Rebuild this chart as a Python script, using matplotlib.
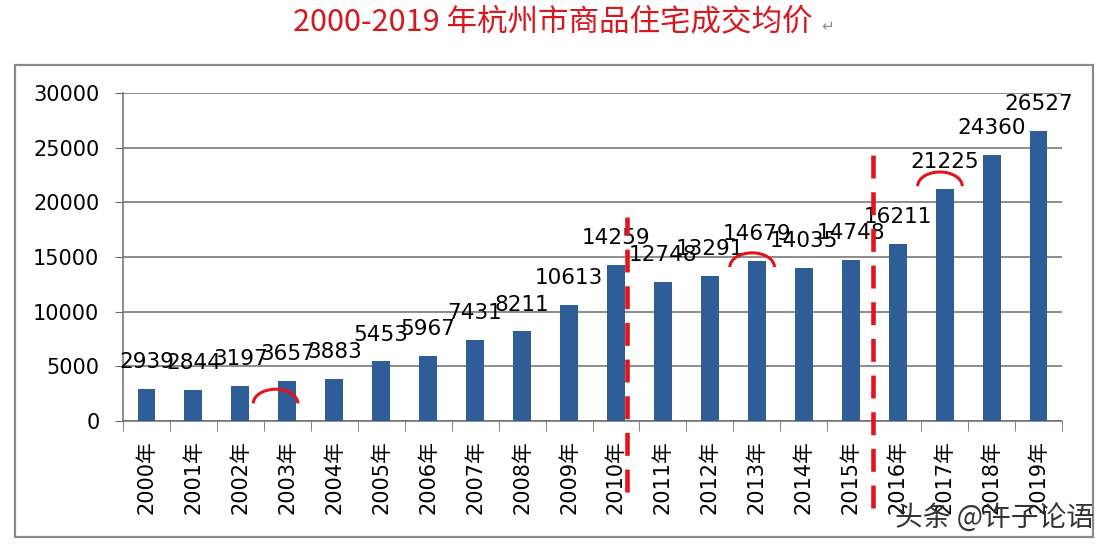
import matplotlib.pyplot as plt
from matplotlib.patches import Arc, Rectangle

# -----------------------------------------
# DATA
# -----------------------------------------
years = [f"{y}年" for y in range(2000, 2020)]

prices = [2939, 2844, 3197, 3657, 3883, 5453, 5967, 7431, 8211, 10613,
          14259, 12748, 13291, 14679, 14035, 14748, 16211, 21225, 24360, 26527]

title_text = "2000-2019 年杭州市商品住宅成交均价"
watermark = "头条 @许子论语"

# hand-drawn red marks: (bar index, x shift, arc peak above bar top)
arc_marks = [(3, -0.25, -750), (13, -0.1, 700), (17, -0.1, 1550)]

# red dashed separators: (x position, top, bottom) in data units
split_lines = [(10.23, 18700, -6500), (15.47, 24800, -8000)]

# -----------------------------------------
# STYLE
# -----------------------------------------
BAR_COLOR = "#2F5D98"
RED = "#E3141B"
GRID = "#6E6E6E"
NUM_FONT = ["DejaVu Sans", "Noto Sans CJK SC"]
CJK_FONT = ["Noto Sans CJK SC", "DejaVu Sans"]

plt.rcParams["font.family"] = NUM_FONT

fig = plt.figure(figsize=(11.08, 5.5), dpi=100)

# outer frame
fig.patches.append(Rectangle((0.0135, 0.0245), 0.973, 0.857,
                             transform=fig.transFigure, fill=False,
                             edgecolor="#8A8A8A", linewidth=1.6))

ax = fig.add_axes([0.111, 0.2345, 0.8475, 0.5964])

x = list(range(len(years)))
ax.bar(x, prices, width=0.38, color=BAR_COLOR, zorder=3)

for i, v in enumerate(prices):
    ax.annotate(str(v), (i, v), xytext=(0, 12), textcoords="offset points",
                ha="center", va="bottom", fontsize=15.5, color="black",
                zorder=5)

ax.set_xlim(-0.5, len(years) - 0.5)
ax.set_ylim(0, 30000)
ax.set_yticks(range(0, 30001, 5000))
ax.yaxis.grid(True, color=GRID, linewidth=1.1, zorder=0)
ax.set_axisbelow(True)

ax.set_xticks(x)
ax.set_xticklabels(years, rotation=90, fontsize=15, family=NUM_FONT)
ax.set_xticks([i - 0.5 for i in range(len(years) + 1)], minor=True)
ax.tick_params(axis="x", which="major", length=0, pad=14)
ax.tick_params(axis="x", which="minor", length=7, color=GRID, direction="out")
ax.tick_params(axis="y", length=6, color=GRID, labelsize=15, pad=11)

for side in ["top", "right"]:
    ax.spines[side].set_visible(False)
for side in ["left", "bottom"]:
    ax.spines[side].set_color(GRID)
    ax.spines[side].set_linewidth(1.1)

# red dashed separators
for xpos, top, bottom in split_lines:
    ax.plot([xpos, xpos], [bottom, top], color=RED, linewidth=3.3,
            dashes=(5, 3), clip_on=False, zorder=6)

# red arcs (flat hand-drawn "hats")
for idx, shift, peak in arc_marks:
    h = 2600
    ax.add_patch(Arc((idx + shift, prices[idx] + peak - h / 2), 0.95, h,
                     theta1=40, theta2=140, color=RED, linewidth=2.2,
                     zorder=6, clip_on=False))

# title
fig.text(0.4985, 0.958, title_text, ha="center", va="center", fontsize=22,
         color="#D7191F", family=CJK_FONT)
fig.text(0.741, 0.952, "↵", ha="left", va="center", fontsize=11,
         color="#888888", family=NUM_FONT)

# watermark
fig.text(0.987, 0.058, watermark, ha="right", va="center", fontsize=20,
         color="#333333", family=CJK_FONT)

fig.savefig("out.png", dpi=100)
